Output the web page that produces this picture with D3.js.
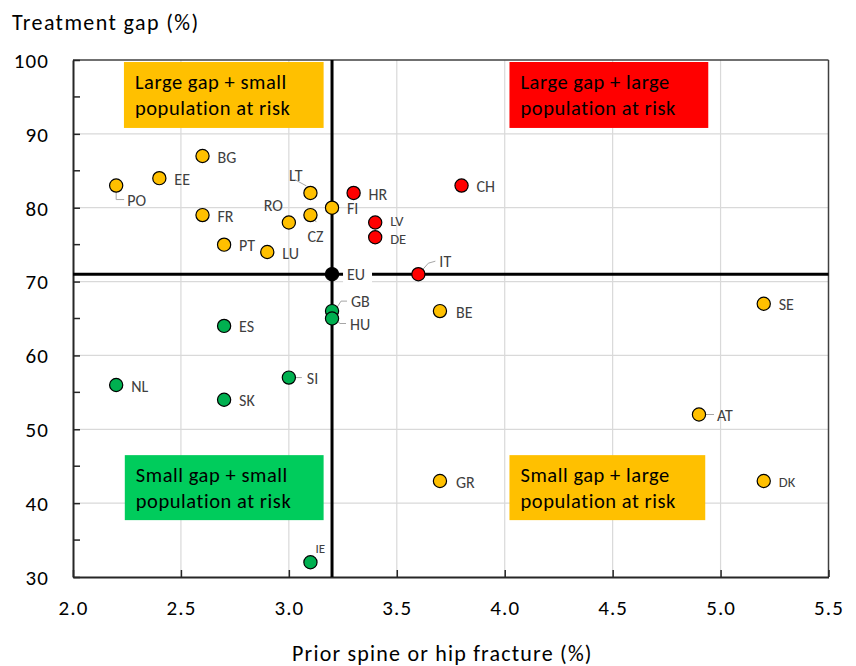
<!DOCTYPE html>
<html><head><meta charset="utf-8">
<script src="https://cdn.jsdelivr.net/npm/d3@7"></script>
<style>
body{margin:0;background:#fff;}
text{font-family:Carlito,Calibri,"Open Sans",sans-serif;}
</style></head>
<body><svg id="c" width="856" height="666"></svg>
<script>
// ---- data ----
const countries = ["BG","EE","PO","LT","HR","CH","FI","FR","RO","CZ","LV","DE","PT","LU","EU","IT","GB","HU","BE","SE","ES","SI","NL","SK","AT","GR","DK","IE"];
const priorFracture = [2.6,2.4,2.2,3.1,3.3,3.8,3.2,2.6,3.0,3.1,3.4,3.4,2.7,2.9,3.2,3.6,3.2,3.2,3.7,5.2,2.7,3.0,2.2,2.7,4.9,3.7,5.2,3.1];
const treatmentGap = [87,84,83,82,82,83,80,79,78,79,78,76,75,74,71,71,66,65,66,67,64,57,56,54,52,43,43,32];
const group = ["LS","LS","LS","LS","LL","LL","LS","LS","LS","LS","LL","LL","LS","LS","EU","LL","SS","SS","SL","SL","SS","SS","SS","SS","SL","SL","SL","SS"];
const xTicks = [2.0,2.5,3.0,3.5,4.0,4.5,5.0,5.5];
const yTicks = [30,40,50,60,70,80,90,100];
const yMinorTicks = [35,45,55,65,75,85,95];
const euX = 3.2, euY = 71;
const quadrantLabels = [["Large gap + small","population at risk"],["Large gap + large","population at risk"],["Small gap + small","population at risk"],["Small gap + large","population at risk"]];
const xTitle = "Prior spine or hip fracture (%)";
const yTitle = "Treatment gap (%)";

// ---- styles / layout ----
const groupColor = {LS:"#FFC000", LL:"#FF0000", SS:"#00B050", SL:"#FFC000", EU:"#000000"};
const quadColors = ["#FFC000","#FF0000","#00CC5C","#FFC000"];
// label placement offsets (px) relative to point: [dx, dy, anchor, leader polyline offsets or null, fontSize]
const labelPlace = {
  BG:[15,1.5,"start",null], EE:[15,1.5,"start",null], PO:[11,15,"start",[[0,3],[0,14],[8,14]]],
  LT:[-8,-18,"end",[[-4,-7],[-15,-13]]], HR:[15,1,"start",null], CH:[15,1,"start",null],
  FI:[15,1,"start",null], FR:[15,1,"start",null], RO:[-6,-17,"end",null],
  CZ:[-3,21,"start",[[0,1],[6,7]]], LV:[15,-1.5,"start",null,14.5], DE:[15,2,"start",null,14.5],
  PT:[15,1,"start",null], LU:[15,1,"start",null], EU:[15,0.5,"start",null],
  IT:[21,-13,"start",[[2,-2],[10,-11],[17,-13]]], GB:[19,-10,"start",[[2,1],[9,-10],[15,-10]]],
  HU:[18,6,"start",[[1,-1],[8,5],[14,5]]], BE:[16,1,"start",null], SE:[15,1,"start",null],
  ES:[15,1,"start",null], SI:[18,1,"start",[[7,0],[13,0]]], NL:[15,1,"start",null],
  SK:[15,1,"start",null], AT:[18,1,"start",[[2,0],[15,0]]], GR:[16,1,"start",null],
  DK:[15,1,"start",null,14.5], IE:[5,-14,"start",null,13]
};

const svg = d3.select("#c");
const L=73, R=828.5, T=60, B=577;
const x = d3.scaleLinear().domain([2.0,5.5]).range([L,R]);
const y = d3.scaleLinear().domain([30,100]).range([B,T]);

// gridlines
svg.append("g").selectAll("line").data(xTicks.slice(1,-1)).join("line")
  .attr("x1",d=>x(d)).attr("x2",d=>x(d)).attr("y1",T).attr("y2",B)
  .attr("stroke","#d9d9d9").attr("stroke-width",1.2);
svg.append("g").selectAll("line").data(yTicks.slice(1,-1)).join("line")
  .attr("y1",d=>y(d)).attr("y2",d=>y(d)).attr("x1",L).attr("x2",R)
  .attr("stroke","#d9d9d9").attr("stroke-width",1.2);

// border top/right
svg.append("line").attr("x1",L).attr("x2",R).attr("y1",T).attr("y2",T).attr("stroke","#404040").attr("stroke-width",1.5);
svg.append("line").attr("x1",R).attr("x2",R).attr("y1",T).attr("y2",B).attr("stroke","#404040").attr("stroke-width",1.5);

// axes
const xAxis = d3.axisBottom(x).tickValues(xTicks).tickFormat(d3.format(".1f")).tickSizeInner(-7).tickSizeOuter(0).tickPadding(23);
const gx = svg.append("g").attr("transform",`translate(0,${B})`).call(xAxis);
const yAxis = d3.axisLeft(y).tickValues(yTicks).tickFormat(d3.format("d")).tickSizeInner(-7).tickSizeOuter(0).tickPadding(23);
const gy = svg.append("g").attr("transform",`translate(${L},0)`).call(yAxis);
svg.append("g").attr("transform",`translate(${L},0)`)
  .selectAll("line").data(yMinorTicks).join("line")
  .attr("x1",0).attr("x2",7).attr("y1",d=>y(d)).attr("y2",d=>y(d)).attr("stroke","#262626").attr("stroke-width",1.5);
[gx,gy].forEach(g=>{
  g.select(".domain").attr("stroke","#262626").attr("stroke-width",2);
  g.selectAll(".tick line").attr("stroke","#262626").attr("stroke-width",1.5);
  g.selectAll(".tick text").attr("font-size",21).attr("letter-spacing","1.1px").attr("fill","#000").style("font-family","Carlito,Calibri,'Open Sans',sans-serif");
});
gy.selectAll(".tick text").attr("dy","0.35em").attr("dx","-1px");

// quadrant boxes
const boxes = [
  {x0:2.236,x1:3.161,y0:99.73,y1:90.8},
  {x0:4.022,x1:4.943,y0:99.73,y1:90.8},
  {x0:2.24,x1:3.161,y0:46.5,y1:37.7},
  {x0:4.022,x1:4.929,y0:46.5,y1:37.7}
];
boxes.forEach((b,i)=>{
  svg.append("rect").attr("x",x(b.x0)).attr("y",y(b.y0)).attr("width",x(b.x1)-x(b.x0)).attr("height",y(b.y1)-y(b.y0)).attr("fill",quadColors[i]);
  const t = svg.append("text").attr("x",x(b.x0)+11).attr("y",y(b.y0)+27).attr("font-size",20.5).attr("letter-spacing","0.55px").attr("fill","#000");
  quadrantLabels[i].forEach((ln,j)=>t.append("tspan").attr("x",x(b.x0)+11).attr("dy",j?26:0).text(ln));
});

// EU lines
svg.append("line").attr("x1",x(euX)).attr("x2",x(euX)).attr("y1",T).attr("y2",B).attr("stroke","#000").attr("stroke-width",3);
svg.append("line").attr("x1",L).attr("x2",R).attr("y1",y(euY)).attr("y2",y(euY)).attr("stroke","#000").attr("stroke-width",3);

const pts = countries.map((c,i)=>({c, x:priorFracture[i], y:treatmentGap[i], g:group[i]}));

// leaders
pts.forEach(p=>{
  const lp = labelPlace[p.c];
  if(lp[3]){
    svg.append("polyline").attr("points",lp[3].map(o=>[x(p.x)+o[0],y(p.y)+o[1]].join(",")).join(" "))
      .attr("fill","none").attr("stroke","#a6a6a6").attr("stroke-width",1);
  }
});

// EU label background
const euP = pts.find(p=>p.c==="EU");
svg.append("rect").attr("x",x(euP.x)+11).attr("y",y(euP.y)-10).attr("width",29).attr("height",20).attr("fill","#fff");

// points
svg.append("g").selectAll("circle").data(pts).join("circle")
  .attr("cx",d=>x(d.x)).attr("cy",d=>y(d.y)).attr("r",6.6)
  .attr("fill",d=>groupColor[d.g]).attr("stroke","#000").attr("stroke-width",1.2);

// labels
svg.append("g").selectAll("text").data(pts).join("text")
  .attr("x",d=>x(d.x)+labelPlace[d.c][0]).attr("y",d=>y(d.y)+labelPlace[d.c][1])
  .attr("dy","0.35em").attr("text-anchor",d=>labelPlace[d.c][2])
  .attr("font-size",d=>labelPlace[d.c][4]||16).attr("fill","#404040").text(d=>d.c);

// titles
svg.append("text").attr("x",12).attr("y",22).attr("dy","0.35em").attr("font-size",22).attr("letter-spacing","1.4px").attr("fill","#000").text(yTitle);
svg.append("text").attr("x",292).attr("y",653).attr("dy","0.35em").attr("font-size",22).attr("letter-spacing","1.2px").attr("fill","#000").text(xTitle);
</script></body></html>
